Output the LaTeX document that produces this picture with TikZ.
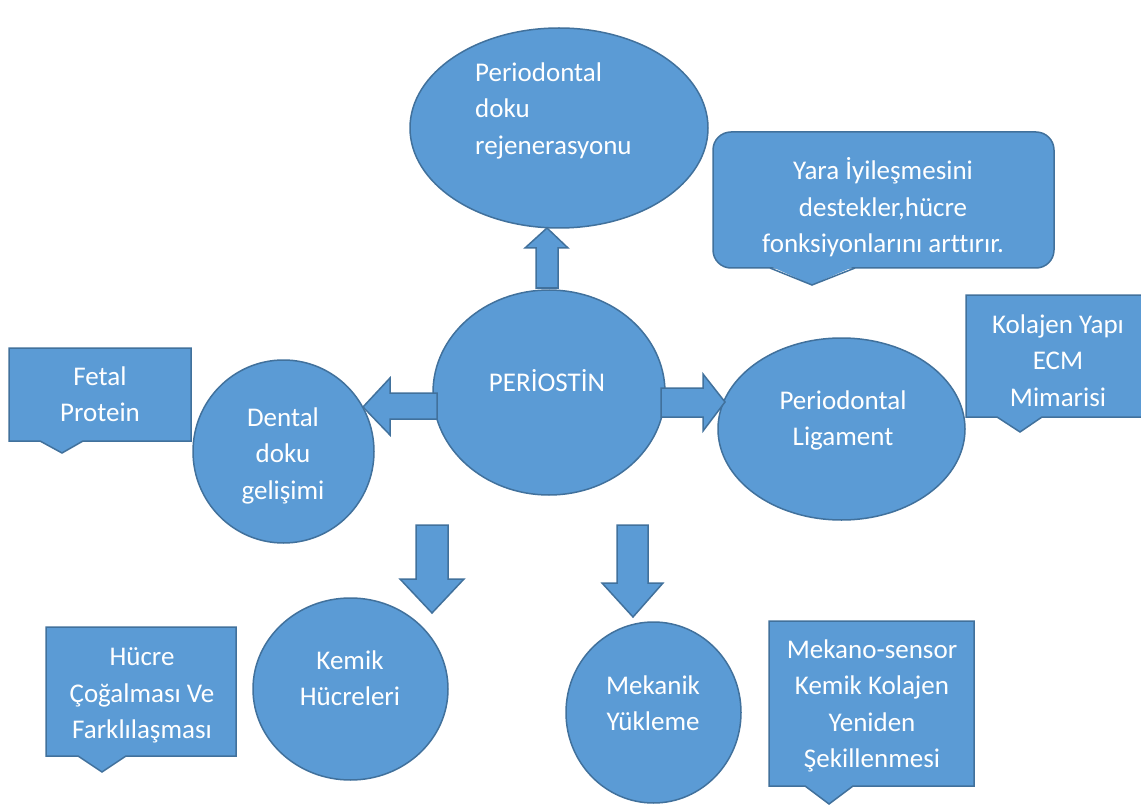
\documentclass[tikz,border=0pt]{standalone}
\usepackage{fontspec}
\setmainfont{Carlito}[Ligatures=NoCommon]
\usetikzlibrary{shapes.geometric}
\definecolor{fillb}{HTML}{5B9BD5}
\definecolor{lineb}{HTML}{41719C}
\begin{document}
\begin{tikzpicture}[x=1pt,y=-1pt,
  shapebox/.style={draw=lineb,fill=fillb,line width=1.5pt,line join=miter},
  oval/.style={shapebox,ellipse,inner sep=0pt},
  txt/.style={text=white,font=\fontsize{27}{36.5}\selectfont,inner sep=0pt,align=center,anchor=north,execute at begin node=\strut}]
\clip (0,0) rectangle (1141,805);
\fill[white] (0,0) rectangle (1141,805);

% ellipses
\node[oval,minimum width=298pt,minimum height=200pt] (regen) at (559,128) {};
\node[oval,minimum width=232pt,minimum height=205pt] (perio) at (549,392.5) {};
\node[oval,minimum width=181pt,minimum height=183pt] (dental) at (283.5,451.5) {};
\node[oval,minimum width=247pt,minimum height=182pt] (pdl) at (841.5,429) {};
\node[oval,minimum width=195pt,minimum height=182pt] (kemik) at (350.5,689) {};
\node[oval,minimum width=175pt,minimum height=181pt] (mekanik) at (653.5,712.5) {};

% block arrows
\draw[shapebox] (536,288) -- (536,248) -- (525,248) -- (547,228) -- (568,248) -- (558,248) -- (558,288) -- cycle;
\draw[shapebox] (437,393) -- (390,393) -- (390,378) -- (363,407) -- (390,435) -- (390,419) -- (437,419) -- cycle;
\draw[shapebox] (661,388) -- (703,388) -- (703,374) -- (725,402) -- (703,431) -- (703,417) -- (661,417) -- cycle;
\draw[shapebox] (416,525) -- (448,525) -- (448,579) -- (464,579) -- (432,613) -- (400,579) -- (416,579) -- cycle;
\draw[shapebox] (617,525) -- (648,525) -- (648,583) -- (663,583) -- (633,617) -- (602,583) -- (617,583) -- cycle;

% callouts
\draw[shapebox,rounded corners=18pt] (713,132) rectangle (1054,268);
\fill[fillb] (770,266) -- (812,285) -- (855,266) -- cycle;
\draw[draw=lineb,line width=1.5pt] (770,268) -- (812,285) -- (855,268);
\draw[shapebox] (9,348) -- (191,348) -- (191,441) -- (83,441) -- (62,453) -- (40,441) -- (9,441) -- cycle;
\draw[shapebox] (966,295) -- (1146,295) -- (1146,417) -- (1042,417) -- (1020,432) -- (997,417) -- (966,417) -- cycle;
\draw[shapebox] (46,627) -- (236,627) -- (236,756) -- (126,756) -- (102,772) -- (78,756) -- (46,756) -- cycle;
\draw[shapebox] (769,621) -- (974,621) -- (974,786) -- (853,786) -- (829,804) -- (805,786) -- (769,786) -- cycle;

% texts
\node[txt,align=left,anchor=north west] (tregen) at (475,62.5) {Periodontal\\doku\\rejenerasyonu};
\node[txt] (tyara) at (883,157.5) {Yara İyileşmesini\\destekler,hücre\\fonksiyonlarını arttırır.};
\node[text=white,font=\fontsize{27}{36.5}\selectfont,inner sep=0pt,anchor=base] (tperio) at (547,391) {PERİOSTİN};
\node[txt] (tdental) at (283,407.5) {Dental\\doku\\gelişimi};
\node[txt] (tfetal) at (100,366.5) {Fetal\\Protein};
\node[txt] (tpdl) at (843,390.5) {Periodontal\\Ligament};
\node[txt] (tkolajen) at (1058,314.5) {Kolajen Yapı\\ECM\\Mimarisi};
\node[txt] (tkemik) at (350,650.5) {Kemik\\Hücreleri};
\node[txt] (thucre) at (142,647.5) {Hücre\\Çoğalması Ve\\Farklılaşması};
\node[txt] (tmekanik) at (653,675.5) {Mekanik\\Yükleme};
\node[txt] (tmekano) at (872,639.5) {Mekano-sensor\\Kemik Kolajen\\Yeniden\\Şekillenmesi};
\end{tikzpicture}
\end{document}
